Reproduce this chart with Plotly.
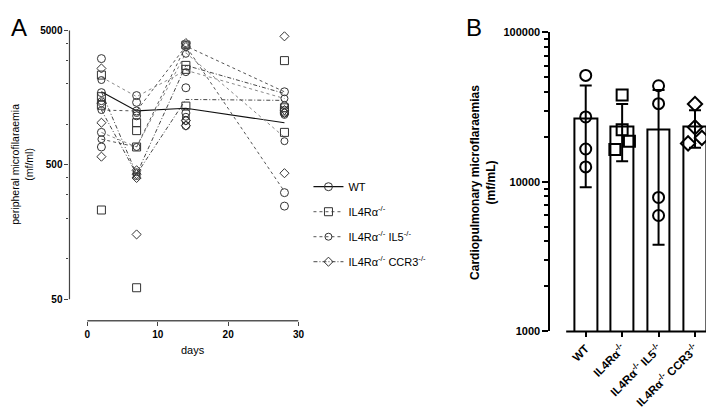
import math
import plotly.graph_objects as go

W, H = 714, 408
FONT = "Arial, Liberation Sans, sans-serif"

# ---------------- Panel A data ----------------
days = [2, 7, 14, 28]
wt_mean = [1750, 1260, 1320, 1030]
il4ra_lines = [[2250, 1610, 2530, 1560], [873, 680, 3410, 803]]
il5_lines = [[1280, 1260, 3830, 1750], [777, 680, 3830, 317]]
ccr3_lines = [[1750, 427, 2750, 1700], [1280, 427, 1535, 1510]]

# individual values per day (rows = days 2, 7, 14, 28)
wt_points = [[3090, 1725, 873, 680], [1640, 1460, 1260, 1160],
             [1875, 1217, 1070, 980], [1750, 1217, 311, 247]]
il4ra_points = [[2330, 1610, 1390, 231], [1030, 900, 680, 61],
                [3900, 2750, 2570, 1370], [2985, 1330, 1260, 873]]
il5_points = [[2140, 1490, 1280, 777], [1217, 680, 441, 413],
              [3900, 3355, 2450, 1140], [1560, 1390, 1178, 751]]
ccr3_points = [[2610, 1436, 1030, 576], [456, 427, 400, 152],
               [4030, 3770, 1070, 980], [4525, 1280, 1217, 434]]

legend_names = ["WT", "IL4Rα<sup>-/-</sup>", "IL4Rα<sup>-/-</sup> IL5<sup>-/-</sup>",
                "IL4Rα<sup>-/-</sup> CCR3<sup>-/-</sup>"]
a_xticks = [0, 10, 20, 30]
a_yticks = [50, 500, 5000]
a_yminor = [100, 200, 300, 400, 1000, 2000, 3000, 4000]

# ---------------- Panel B data ----------------
b_categories = ["WT", "IL4Rα<sup>-/-</sup>", "IL4Rα<sup>-/-</sup> IL5<sup>-/-</sup>",
                "IL4Rα<sup>-/-</sup> CCR3<sup>-/-</sup>"]
b_means = [26700, 23450, 22500, 23550]
b_sd = [17500, 9700, 18700, 6650]
b_points = [[51600, 27200, 16600, 12600],
            [38200, 22300, 18700, 16500],
            [44000, 33400, 7870, 5960],
            [33200, 23200, 19700, 18100]]
b_jitter = [[0, 0, 0, 0], [0, 0, 0.2, -0.2], [0, 0, 0, 0], [0, 0, 0.19, -0.19]]
b_yticks = [1000, 10000, 100000]
b_yminor = [2000, 3000, 4000, 5000, 6000, 7000, 8000, 9000,
            20000, 30000, 40000, 50000, 60000, 70000, 80000, 90000]

# ---------------- styles ----------------
DARK = "#333333"
group_styles = [
    dict(symbol="circle-open", size=8, dash="solid", color="#111111", lw=1.2),
    dict(symbol="square-open", size=8, dash="dot", color="#8a8a8a", lw=1.0),
    dict(symbol="circle-open", size=7, dash="dot", color="#555555", lw=1.0),
    dict(symbol="diamond-open", size=7, dash="4px,2px,1px,2px", color="#333333", lw=0.9),
]
groups_lines = [[wt_mean], il4ra_lines, il5_lines, ccr3_lines]
groups_points = [wt_points, il4ra_points, il5_points, ccr3_points]

fig = go.Figure()

for gi, (lines, pts, st) in enumerate(zip(groups_lines, groups_points, group_styles)):
    for ln in lines:
        fig.add_trace(go.Scatter(x=days, y=ln, mode="lines", showlegend=False,
                                 line=dict(color=st["color"], width=st["lw"], dash=st["dash"]),
                                 xaxis="x", yaxis="y", hoverinfo="skip"))
    xs, ys = [], []
    for d, vals in zip(days, pts):
        for v in vals:
            xs.append(d)
            ys.append(v)
    fig.add_trace(go.Scatter(x=xs, y=ys, mode="markers", showlegend=False,
                             marker=dict(symbol=st["symbol"], size=st["size"], color=DARK,
                                         line=dict(width=1, color=DARK)),
                             xaxis="x", yaxis="y", cliponaxis=False))
    # legend entry
    fig.add_trace(go.Scatter(x=[None], y=[None], mode="lines+markers", name=legend_names[gi],
                             legendgroup=f"g{gi}",
                             line=dict(color=st["color"] if gi != 1 else "#555555",
                                       width=st["lw"], dash=st["dash"]),
                             marker=dict(symbol=st["symbol"], size=st["size"], color=DARK,
                                         line=dict(width=1, color=DARK)),
                             xaxis="x", yaxis="y"))

# Panel B bars
fig.add_trace(go.Bar(x=list(range(len(b_categories))), y=b_means, width=0.62,
                     marker=dict(color="white", line=dict(color="black", width=2)),
                     error_y=dict(type="data", array=b_sd, visible=True, color="black",
                                  thickness=2, width=6),
                     showlegend=False, xaxis="x2", yaxis="y2"))
b_symbols = ["circle-open", "square-open", "circle-open", "diamond-open"]
for i, (vals, jit) in enumerate(zip(b_points, b_jitter)):
    fig.add_trace(go.Scatter(x=[i + j for j in jit], y=vals, mode="markers", showlegend=False,
                             marker=dict(symbol=b_symbols[i], size=11, color="black",
                                         line=dict(width=2, color="black")),
                             xaxis="x2", yaxis="y2", cliponaxis=False))

# ---------------- geometry ----------------
ax_l, ax_r, ax_t, ax_b = 62, 293, 17, 316
px_per_day = (ax_r - 80) / 30.0
a_xrange = [-(80 - ax_l) / px_per_day, 30]
dec_a = 138.5
a_yrange = [math.log10(5000) - (ax_b - ax_t) / dec_a, math.log10(5000)]

bx_l, bx_r, by_t, by_b = 547, 713, 19, 327
b_xrange = [-0.97, 3.55]

def yfrac(v, rng):
    return (math.log10(v) - rng[0]) / (rng[1] - rng[0])

def ann(text, px, py, size, angle=0):
    return dict(text=text, x=px / W, y=1 - py / H, xref="paper", yref="paper",
                xanchor="center", yanchor="middle", showarrow=False, textangle=angle,
                font=dict(size=size, color="black", family=FONT))

fig.update_layout(
    width=W, height=H, margin=dict(l=0, r=0, t=0, b=0),
    paper_bgcolor="white", plot_bgcolor="white",
    font=dict(family=FONT, color="black", size=11),
    bargap=0,
    xaxis=dict(domain=[ax_l / W, ax_r / W], range=a_xrange, anchor="y",
               tickmode="array", tickvals=a_xticks,
               ticks="outside", ticklen=4, tickcolor="#444", tickwidth=1,
               showline=False, showgrid=False, zeroline=False,
               tickfont=dict(size=10, weight="bold", color="black")),
    yaxis=dict(domain=[1 - ax_b / H, 1 - ax_t / H], type="log", range=a_yrange, anchor="x",
               tickmode="array", tickvals=a_yticks, ticktext=[str(v) for v in a_yticks],
               ticks="outside", ticklen=4, tickcolor="#444", tickwidth=1,
               minor=dict(tickmode="array", tickvals=a_yminor, ticks="outside", ticklen=2,
                          tickcolor="#444", tickwidth=1),
               showline=False, showgrid=False, zeroline=False,
               tickfont=dict(size=10, weight="bold", color="black")),
    xaxis2=dict(domain=[bx_l / W, bx_r / W], range=b_xrange, anchor="y2", tickmode="array",
                tickvals=list(range(len(b_categories))), ticktext=b_categories, tickangle=-45,
                ticks="outside", ticklen=5, tickwidth=2, tickcolor="black",
                showline=False, showgrid=False, zeroline=False,
                tickfont=dict(size=11.5, weight="bold", color="black")),
    yaxis2=dict(domain=[1 - by_b / H, 1 - by_t / H], type="log", range=[3, 5], anchor="x2",
                tickmode="array", tickvals=b_yticks, ticktext=[str(v) for v in b_yticks],
                ticks="outside", ticklen=6, tickwidth=2, tickcolor="black",
                minor=dict(tickmode="array", tickvals=b_yminor, ticks="outside", ticklen=4,
                           tickwidth=1.5, tickcolor="black"),
                showline=True, linewidth=2, linecolor="black",
                showgrid=False, zeroline=False,
                tickfont=dict(size=11, weight="bold", color="black")),
    legend=dict(x=303 / W, y=1 - 163 / H, xanchor="left", yanchor="top",
                font=dict(size=11, family=FONT, color="black"), tracegroupgap=6,
                bgcolor="rgba(0,0,0,0)", itemwidth=30),
    shapes=[
        dict(type="line", xref="x domain", yref="y domain", x0=0, x1=0,
             y0=yfrac(a_yticks[0], a_yrange), y1=yfrac(a_yticks[-1], a_yrange),
             line=dict(color="#444", width=1.2)),
        dict(type="line", xref="x", yref="y domain", x0=a_xticks[0], x1=a_xticks[-1],
             y0=0, y1=0, line=dict(color="#555", width=1.5)),
        dict(type="line", xref="x2", yref="y2 domain", x0=-0.537, x1=b_xrange[1],
             y0=0, y1=0, line=dict(color="black", width=2)),
    ],
    annotations=[
        ann("A", 11.5, 13.5, 24),
        ann("B", 470, 13.5, 24),
        ann("peripheral microfilaraemia<br>(mf/ml)", 14.5, 155, 10.5, -90),
        ann("days", 186.5, 346, 11),
        ann("<b>Cardiopulmonary microflaraemias</b><br><b>(mf/mL)</b>", 479, 173, 12, -90),
    ],
)

fig.write_html("out.html")
